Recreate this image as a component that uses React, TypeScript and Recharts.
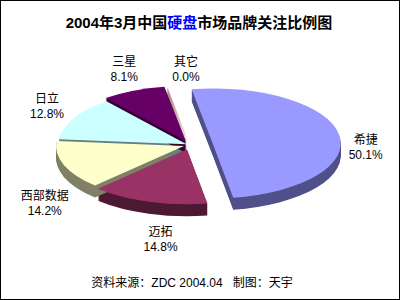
import { Pie, PieChart } from 'recharts'

// 2004年3月中国硬盘市场品牌关注比例图 (ZDC)
const brands = ['希捷', '迈拓', '西部数据', '日立', '三星', '其它']
const shares = [50.1, 14.8, 14.2, 12.8, 8.1, 0.04]

const topColors = ['#9999FF', '#993366', '#FFFFCC', '#CCFFFF', '#660066', '#FF8080']
const wallColors = ['#50508A', '#4D1A33', '#808066', '#668080', '#330033', '#804040']
const explode: Record<string, number> = { 希捷: 0.18, 迈拓: 0.08, 西部数据: 0.05, 日立: 0.03, 三星: 0.08, 其它: 0.06 }
// Excel moved a few labels off their ideal spot
const labelNudge: Record<string, [number, number]> = {
  希捷: [0, 9],
  迈拓: [20, -8],
  西部数据: [6, 15],
  日立: [-3, -5],
  三星: [2, 2],
  其它: [23, 8],
}

const data = brands.map((name, i) => ({ name, value: shares[i] }))

const RX = 128
const RY = 55
const DEPTH = 12
const FONT = '"Liberation Sans", Arial, "Noto Sans CJK SC", sans-serif'

const toRad = (a: number) => (a * Math.PI) / 180

function slicePath(cx: number, cy: number, start: number, end: number) {
  const x1 = cx + RX * Math.cos(toRad(start))
  const y1 = cy - RY * Math.sin(toRad(start))
  const x2 = cx + RX * Math.cos(toRad(end))
  const y2 = cy - RY * Math.sin(toRad(end))
  const large = Math.abs(start - end) > 180 ? 1 : 0
  return `M${cx},${cy}L${x1},${y1}A${RX},${RY} 0 ${large} 1 ${x2},${y2}Z`
}

function sliceCenter(props: any) {
  const { cx, cy, midAngle, name } = props
  const e = explode[name] ?? 0
  return {
    x: cx + RX * e * Math.cos(toRad(midAngle)),
    y: cy - RY * e * Math.sin(toRad(midAngle)),
  }
}

function renderWall(props: any) {
  const { startAngle, endAngle, index } = props
  const c = sliceCenter(props)
  const layers = []
  for (let k = DEPTH; k >= 1; k--) {
    layers.push(
      <path key={k} d={slicePath(c.x, c.y + k, startAngle, endAngle)} fill={wallColors[index]} />
    )
  }
  return <g>{layers}</g>
}

function renderTop(props: any) {
  const { startAngle, endAngle, midAngle, index, name, percent } = props
  const c = sliceCenter(props)
  const [nx, ny] = labelNudge[name] ?? [0, 0]
  const lx = c.x + 155 * Math.cos(toRad(midAngle)) + nx
  const ly = c.y - 92 * Math.sin(toRad(midAngle)) + 10 + ny
  return (
    <g>
      <path d={slicePath(c.x, c.y, startAngle, endAngle)} fill={topColors[index]} />
      <text x={lx} y={ly - 3} textAnchor="middle" fontSize={12} fontFamily={FONT} fill="#000">
        {name}
      </text>
      <text x={lx} y={ly + 12} textAnchor="middle" fontSize={12} fontFamily={FONT} fill="#000">
        {(percent * 100).toFixed(1)}%
      </text>
    </g>
  )
}

export default function App() {
  return (
    <div style={{ position: 'absolute', left: 0, top: 0, width: 400, height: 300, background: '#fff' }}>
      <PieChart width={400} height={300} margin={{ top: 0, right: 0, bottom: 0, left: 0 }}>
        <Pie
          data={data}
          dataKey="value"
          nameKey="name"
          cx={190}
          cy={145}
          outerRadius={RX}
          startAngle={99.5}
          endAngle={-260.5}
          fill="none"
          stroke="none"
          label={renderWall}
          labelLine={false}
          isAnimationActive={false}
        />
        <Pie
          data={data}
          dataKey="value"
          nameKey="name"
          cx={190}
          cy={145}
          outerRadius={RX}
          startAngle={99.5}
          endAngle={-260.5}
          fill="none"
          stroke="none"
          label={renderTop}
          labelLine={false}
          isAnimationActive={false}
        />
      </PieChart>
      <svg width={400} height={300} style={{ position: 'absolute', left: 0, top: 0, pointerEvents: 'none' }}>
        <text x={199} y={28} textAnchor="middle" fontSize={15} fontWeight="bold" fontFamily={FONT} fill="#000">
          2004年3月中国<tspan fill="#0000FF">硬盘</tspan>市场品牌关注比例图
        </text>
        <text x={192} y={287} textAnchor="middle" fontSize={12} fontFamily={FONT} fill="#000" style={{ whiteSpace: 'pre' }}>
          资料来源：ZDC 2004.04   制图：天宇
        </text>
        <rect x={0.5} y={0.5} width={399} height={299} fill="none" stroke="#000" />
      </svg>
    </div>
  )
}
